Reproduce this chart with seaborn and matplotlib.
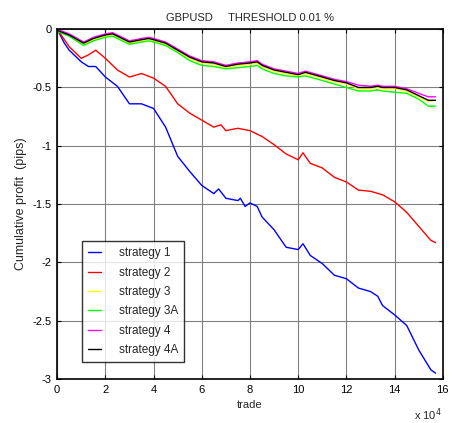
import pandas as pd
import matplotlib
matplotlib.use("Agg")
import matplotlib.pyplot as plt
import seaborn as sns

# trade number in units of 1e4
x_s1 = [0, 0.3, 0.5, 1.0, 1.3, 1.6, 2.0, 2.5, 3.0, 3.5, 4.0, 4.5, 5.0, 5.5, 6.0, 6.5, 6.7,
        7.0, 7.5, 7.6, 7.8, 8.0, 8.3, 8.5, 9.0, 9.5, 10.0, 10.2, 10.5, 11.0, 11.5, 12.0,
        12.5, 13.0, 13.3, 13.5, 14.0, 14.5, 15.0, 15.5, 15.7]
y_s1 = [0, -0.12, -0.18, -0.28, -0.32, -0.32, -0.41, -0.49, -0.64, -0.64, -0.68, -0.84,
        -1.09, -1.22, -1.34, -1.41, -1.37, -1.45, -1.47, -1.45, -1.52, -1.49, -1.52, -1.61,
        -1.72, -1.87, -1.89, -1.84, -1.94, -2.01, -2.11, -2.14, -2.22, -2.25, -2.29, -2.37,
        -2.45, -2.54, -2.75, -2.92, -2.95]

x_s2 = [0, 0.5, 1.0, 1.3, 1.6, 2.0, 2.5, 3.0, 3.5, 4.0, 4.5, 5.0, 5.5, 6.0, 6.5, 6.8, 7.0,
        7.5, 8.0, 8.5, 9.0, 9.5, 10.0, 10.2, 10.5, 11.0, 11.5, 12.0, 12.5, 13.0, 13.5, 14.0,
        14.5, 15.0, 15.5, 15.7]
y_s2 = [0, -0.15, -0.25, -0.22, -0.18, -0.25, -0.35, -0.41, -0.38, -0.42, -0.49, -0.64,
        -0.72, -0.78, -0.84, -0.82, -0.87, -0.85, -0.87, -0.92, -0.99, -1.07, -1.12, -1.06,
        -1.15, -1.19, -1.27, -1.31, -1.38, -1.39, -1.42, -1.48, -1.57, -1.69, -1.81, -1.83]

# the four close strategies share one grid
x_top = [0, 0.5, 1.1, 1.5, 2.0, 2.3, 3.0, 3.5, 3.8, 4.0, 4.5, 5.0, 5.5, 6.0, 6.5, 7.0, 7.5,
         8.0, 8.3, 8.5, 9.0, 9.5, 10.0, 10.3, 11.0, 11.5, 12.0, 12.5, 13.0, 13.3, 13.5, 14.0,
         14.5, 15.0, 15.4, 15.7]
y_s3 = [-0.01, -0.05, -0.13, -0.09, -0.06, -0.05, -0.12, -0.10, -0.09, -0.10, -0.13, -0.19,
        -0.25, -0.29, -0.30, -0.33, -0.31, -0.30, -0.29, -0.32, -0.36, -0.38, -0.40, -0.38,
        -0.42, -0.45, -0.47, -0.51, -0.51, -0.50, -0.51, -0.51, -0.53, -0.58, -0.62, -0.61]
y_s3a = [-0.02, -0.06, -0.14, -0.10, -0.07, -0.06, -0.13, -0.11, -0.10, -0.11, -0.14, -0.20,
         -0.27, -0.31, -0.32, -0.34, -0.33, -0.32, -0.31, -0.34, -0.38, -0.40, -0.41, -0.40,
         -0.44, -0.47, -0.50, -0.53, -0.53, -0.52, -0.53, -0.54, -0.55, -0.60, -0.66, -0.66]
y_s4 = [0, -0.04, -0.11, -0.07, -0.04, -0.03, -0.10, -0.08, -0.07, -0.08, -0.11, -0.17,
        -0.23, -0.27, -0.28, -0.31, -0.29, -0.28, -0.27, -0.30, -0.34, -0.36, -0.38, -0.36,
        -0.40, -0.43, -0.45, -0.48, -0.49, -0.48, -0.49, -0.49, -0.51, -0.55, -0.58, -0.58]
y_s4a = [-0.01, -0.05, -0.12, -0.08, -0.05, -0.04, -0.11, -0.09, -0.08, -0.09, -0.12, -0.18,
         -0.24, -0.28, -0.29, -0.32, -0.30, -0.29, -0.28, -0.31, -0.35, -0.37, -0.39, -0.37,
         -0.41, -0.44, -0.46, -0.50, -0.50, -0.49, -0.50, -0.50, -0.52, -0.57, -0.61, -0.61]

names = ["strategy 1", "strategy 2", "strategy 3", "strategy 3A", "strategy 4", "strategy 4A"]
colors = ["#0000ff", "#ff0000", "#ffff00", "#00ff00", "#ff00ff", "#000000"]

series = [(x_s1, y_s1), (x_s2, y_s2), (x_top, y_s3), (x_top, y_s3a), (x_top, y_s4), (x_top, y_s4a)]
frames = []
for name, (xs, ys) in zip(names, series):
    frames.append(pd.DataFrame({"trade": xs, "profit": ys, "strategy": name}))
df = pd.concat(frames, ignore_index=True)

sns.set_style("white")
plt.rcParams["font.family"] = ["Liberation Sans", "DejaVu Sans"]

fig = plt.figure(figsize=(4.5, 4.23), dpi=100)
ax = fig.add_axes([0.127, 0.104, 0.857, 0.827])

sns.lineplot(data=df, x="trade", y="profit", hue="strategy", hue_order=names,
             palette=dict(zip(names, colors)), linewidth=1.0, sort=False,
             estimator=None, ax=ax)

ax.set_xlim(0, 16)
ax.set_ylim(-3, 0)
ax.set_xticks(range(0, 17, 2))
ax.set_yticks([-3, -2.5, -2, -1.5, -1, -0.5, 0])
ax.set_yticklabels(["-3", "-2.5", "-2", "-1.5", "-1", "-0.5", "0"])
ax.grid(True, color="#808080", linewidth=0.8)
ax.tick_params(direction="in", length=3, labelsize=8, colors="black",
               top=True, right=True, bottom=True, left=True, pad=4)
for s in ax.spines.values():
    s.set_color("black")
    s.set_linewidth(1.2)

ax.set_title("GBPUSD     THRESHOLD 0.01 %", fontsize=8, pad=6)
ax.set_xlabel("trade", fontsize=8, labelpad=4)
ax.set_ylabel("Cumulative profit  (pips)", fontsize=9, labelpad=4)
fig.text(0.92, 0.008, r"x 10$^4$", fontsize=8)

leg = ax.legend(loc="lower left", bbox_to_anchor=(0.065, 0.049), fontsize=8.5,
                frameon=True, fancybox=False, handlelength=1.1, handletextpad=1.5,
                borderpad=0.5, labelspacing=0.62, borderaxespad=0)
leg.get_frame().set_edgecolor("black")
leg.get_frame().set_linewidth(1.0)

fig.savefig("out.png", dpi=100)
